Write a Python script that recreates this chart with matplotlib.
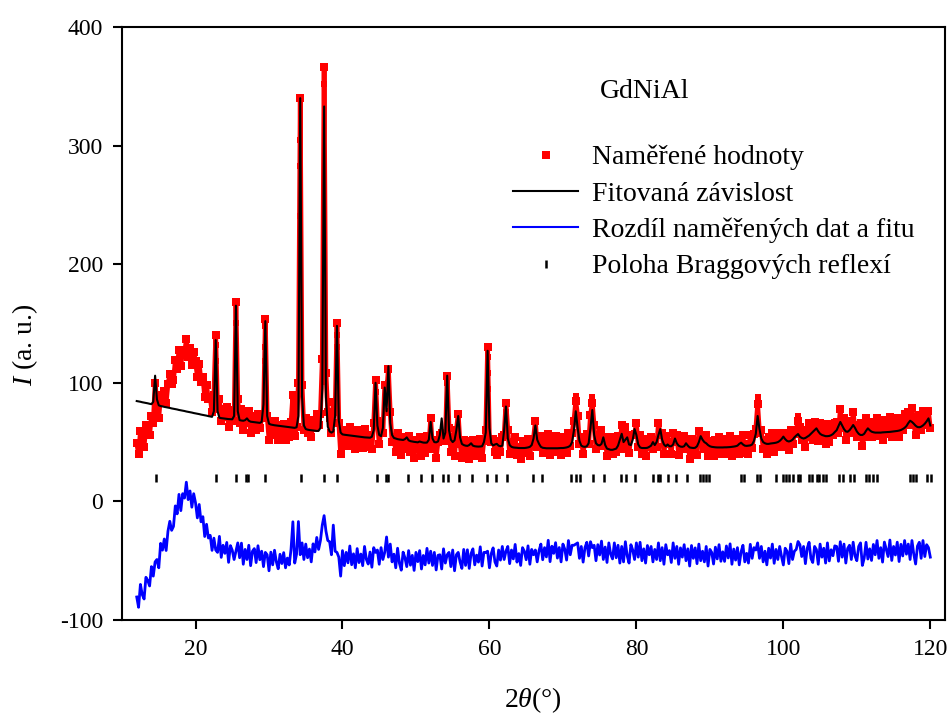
import numpy as np
import matplotlib
matplotlib.use("Agg")
from matplotlib import pyplot as plt

plt.rcParams['font.family'] = ['Liberation Serif', 'DejaVu Serif']
plt.rcParams['mathtext.fontset'] = 'custom'
plt.rcParams['mathtext.rm'] = 'Liberation Serif'
plt.rcParams['mathtext.it'] = 'Liberation Serif:italic'
plt.rcParams['axes.unicode_minus'] = False

# measurement grid, 2theta in degrees (0.25 deg step, 12 .. 120)
twoTheta = np.arange(12, 120.001, 0.25)

# measured intensity (red points), one value per grid step
measured = [
    49, 40, 59, 50, 46, 64, 61, 56, 72, 66, 100, 82, 70, 90, 84, 93, 83, 99, 107, 99,
    102, 119, 112, 128, 114, 128, 124, 137, 122, 129, 115, 126, 118, 105, 116, 101, 105, 88, 98, 86,
    88, 75, 90, 140, 78, 86, 68, 78, 71, 80, 63, 77, 73, 68, 168, 86, 66, 78, 60, 73,
    66, 76, 58, 70, 72, 60, 74, 62, 70, 72, 154, 72, 52, 67, 56, 68, 58, 52, 64, 56,
    65, 52, 60, 54, 67, 90, 55, 63, 100, 340, 98, 60, 70, 58, 65, 54, 69, 62, 74, 64,
    74, 120, 366, 108, 75, 70, 58, 84, 75, 150, 66, 40, 60, 47, 58, 49, 63, 47, 56, 44,
    60, 48, 55, 45, 61, 50, 46, 56, 44, 66, 102, 68, 48, 61, 58, 98, 91, 112, 75, 50,
    54, 42, 58, 45, 39, 54, 50, 44, 55, 42, 50, 37, 52, 44, 54, 38, 49, 41, 55, 45,
    70, 44, 52, 37, 50, 56, 58, 58, 51, 106, 62, 42, 54, 38, 60, 74, 48, 37, 52, 38,
    51, 36, 50, 52, 38, 46, 40, 53, 37, 52, 60, 130, 51, 50, 53, 42, 39, 51, 42, 54,
    56, 83, 60, 40, 50, 42, 54, 39, 46, 36, 51, 48, 41, 53, 38, 52, 53, 68, 46, 52,
    55, 41, 51, 43, 57, 39, 52, 46, 55, 42, 51, 39, 54, 50, 41, 58, 47, 58, 68, 85,
    72, 48, 54, 40, 52, 57, 48, 73, 83, 64, 44, 56, 47, 60, 50, 54, 38, 54, 44, 40,
    54, 42, 55, 45, 64, 44, 63, 53, 41, 56, 56, 57, 66, 46, 56, 40, 50, 38, 53, 46,
    54, 44, 52, 46, 66, 56, 58, 40, 55, 48, 50, 40, 58, 50, 56, 39, 52, 44, 55, 44,
    52, 36, 53, 42, 51, 39, 59, 50, 55, 44, 56, 38, 51, 48, 38, 52, 42, 54, 40, 48,
    40, 53, 43, 55, 38, 51, 42, 53, 40, 52, 56, 41, 48, 40, 56, 45, 57, 61, 82, 58,
    60, 44, 52, 40, 54, 46, 58, 42, 54, 46, 58, 51, 46, 58, 54, 43, 60, 48, 57, 60,
    68, 63, 52, 60, 46, 60, 66, 54, 52, 67, 66, 51, 66, 54, 61, 48, 65, 50, 60, 56,
    66, 67, 58, 78, 62, 70, 52, 64, 68, 58, 75, 61, 54, 64, 66, 47, 54, 70, 58, 65,
    54, 67, 58, 70, 55, 64, 52, 69, 63, 57, 71, 54, 66, 59, 70, 54, 69, 60, 74, 64,
    75, 64, 79, 66, 56, 70, 73, 60, 76, 64, 76, 76, 62,
]

# fitted profile (black line) on the same grid
fitted = [
    84.6, 84.3, 84.0, 83.6, 83.3, 83.0, 82.7, 82.3, 82.0, 84, 106, 86, 81.0, 80.4, 80.1, 79.7, 79.4, 79.1, 78.8, 78.4,
    78.1, 77.8, 77.5, 77.1, 76.8, 76.5, 76.2, 75.8, 75.5, 75.2, 74.9, 74.5, 74.2, 73.9, 73.6, 73.2, 72.9, 72.6, 72.3, 71.9,
    71.6, 71.3, 76, 136, 76, 70.5, 70.2, 70.0, 69.8, 69.6, 69.4, 69.3, 69.2, 72, 165, 76, 68.5, 68.2, 68.0, 68.5,
    70, 68, 67.2, 67.0, 66.8, 66.6, 66.4, 66.2, 67, 82, 152, 72, 65.5, 64.8, 64.5, 64.2, 64.0, 63.8, 63.6, 63.4,
    63.2, 63.0, 62.8, 62.6, 62.4, 62.2, 62.0, 62.5, 72, 340, 88, 64, 61, 60.5, 60.2, 60.0, 59.8, 59.6, 59.4, 59.5,
    62, 95, 333, 88, 63, 59, 58, 59, 72, 148, 68, 58, 56.5, 56.2, 56.0, 55.8, 55.6, 55.4, 55.2, 55.0,
    54.8, 54.6, 54.4, 54.2, 54.0, 53.9, 53.8, 53.7, 54.5, 60, 100, 64, 56, 55, 62, 96, 76, 114, 66, 56,
    53.5, 53, 52.5, 52.2, 52.0, 51.8, 52.5, 54, 51.5, 50.8, 50.5, 50.2, 50.0, 49.8, 50.5, 50, 49.6, 49.5, 49.6, 52,
    67, 53, 50, 49.8, 50.5, 56, 70, 53, 58, 106, 60, 52, 50, 51.5, 60, 72, 54, 48.5, 47.5, 47,
    46.8, 47.5, 49, 47, 46.5, 46.3, 46.2, 46.3, 46.5, 50, 58, 127, 62, 49, 47.2, 48, 48.5, 47, 46.5, 47,
    60, 80, 53, 47.5, 46, 45.5, 45.3, 45.2, 45, 45, 45, 45, 45.2, 45.5, 46, 47.5, 53, 64, 52, 48.5,
    46, 45.2, 45, 44.8, 44.8, 44.8, 44.8, 44.8, 44.8, 44.8, 44.9, 45, 45, 45.2, 45.5, 46, 47, 50, 60, 76,
    62, 51, 47, 46.2, 46, 46.5, 49, 62, 77, 56, 49, 47.5, 47.2, 48.5, 54, 47.5, 44.5, 44, 43.5, 43.5,
    44, 44.5, 47, 52, 57, 50, 52, 54, 48, 47.5, 52, 61, 56, 48, 45.5, 45, 45, 45, 45.2, 46,
    47, 50, 47.5, 50, 56, 61, 52, 48, 46.5, 48, 46.5, 46.5, 48, 53, 49, 47, 46.2, 46, 46.5, 49,
    47, 45.5, 45.2, 45, 45.2, 46.5, 50, 55, 52, 50, 49, 47.5, 46.5, 46, 45.8, 45.6, 45.5, 45.5, 45.5, 45.5,
    45.6, 45.6, 45.7, 45.8, 46, 46.2, 46.5, 47, 48.5, 49.5, 48, 47, 46.8, 47, 47.2, 48, 51, 57, 72, 61,
    53, 50, 49, 48.5, 48.5, 48.8, 49, 49.2, 49.5, 50, 51, 52.5, 54.6, 52.5, 51, 50.5, 51, 52, 54, 55.5,
    56.8, 54.5, 53.5, 53, 53.5, 54.5, 55.5, 57, 58.5, 60, 61.6, 59, 57, 56, 55.5, 55, 55, 55.2, 55.8, 56.8,
    58.5, 60, 63.5, 67, 64, 61, 59, 58.7, 60, 62, 64.4, 62, 59, 57, 56, 56, 57, 59.5, 61.6, 60,
    58.8, 58.3, 58, 58, 58, 58, 58.2, 58.3, 58.4, 58.5, 58.6, 58.8, 59, 59.2, 59.4, 59.7, 60.2, 61, 62, 63.5,
    66, 68, 67, 65.5, 63.8, 62.7, 62.5, 63, 64, 65.5, 67.5, 70, 64,
]

# extra measured points along the flanks of the strong reflections
peakTheta = [22.75, 22.75, 22.75, 25.5, 25.5, 25.5, 25.5, 29.5, 29.5, 29.5, 29.5,
             34.25, 34.25, 34.25, 34.25, 34.25, 34.25, 34.25, 34.25,
             37.5, 37.5, 37.5, 37.5, 37.5, 37.5, 37.5, 37.5, 37.5, 37.5,
             39.25, 39.25, 39.25, 39.25, 44.5, 46.25, 46.25, 54.25, 59.75, 59.75, 59.75,
             62.25, 71.75, 74.0, 74.0, 96.5, 102.0]
peakI = [132, 118, 105, 150, 135, 120, 110, 148, 130, 118, 104,
         305, 283, 241, 224, 200, 170, 146, 120,
         352, 260, 255, 248, 216, 187, 149, 133, 119, 101,
         140, 130, 111, 100, 92, 100, 88, 100, 122, 108, 95,
         75, 89, 88, 83, 88, 72]

# positions of Bragg reflections
braggPos = [14.56, 22.81, 25.53, 26.9, 27.1, 29.43, 34.29, 37.46, 39.23, 44.72, 45.89, 46.26,
            48.89, 50.70, 52.15, 53.65, 54.33, 55.79, 57.64, 59.69, 60.91, 62.36, 65.95, 67.15,
            71.11, 71.81, 72.31, 74.06, 75.65, 77.92, 78.60, 79.87, 82.31, 82.90, 83.26, 84.26,
            85.41, 86.84, 88.66, 89.11, 89.48, 89.93, 94.24, 94.69, 96.39, 96.81, 99.0, 99.99,
            100.33, 100.82, 101.27, 101.94, 102.31, 103.44, 103.90, 104.54, 104.90, 105.35,
            105.81, 107.62, 108.16, 109.06, 109.66, 111.24, 111.70, 112.16, 112.75, 117.28,
            117.69, 118.05, 119.55, 120.1]
braggLevel = 19.5

offset = -45  # shift of the difference curve
difference = np.array(measured) - np.array(fitted) + offset

fig = plt.figure(figsize=(9.49, 7.18), dpi=100)
ax = fig.add_axes([0.1286, 0.1365, 0.8672, 0.8259])

# dense cloud of measured points: joining line fills the gaps between the markers
ax.plot(twoTheta, measured, '-', color='#ff0000', lw=3.4, zorder=1)
ptsMeas, = ax.plot(twoTheta, measured, 's', color='#ff0000', ms=5.2, mew=0, zorder=2,
                   label='Naměřené hodnoty')
ax.plot(peakTheta, peakI, 's', color='#ff0000', ms=4.6, mew=0, zorder=2)
lineFit, = ax.plot(twoTheta, fitted, '-', color='black', lw=1.5, zorder=3,
                   label='Fitovaná závislost')
lineDiff, = ax.plot(twoTheta, difference, '-', color='#0000ff', lw=2.0, zorder=2,
                    label='Rozdíl naměřených dat a fitu')
ptsBragg, = ax.plot(braggPos, [braggLevel] * len(braggPos), '|', color='black', ms=5.5,
                    mew=1.8, zorder=3, label='Poloha Braggových reflexí')

ax.set_xlim(10, 122)
ax.set_ylim(-100, 400)
ax.set_xticks(range(20, 121, 20))
ax.set_yticks(range(-100, 401, 100))
ax.tick_params(direction='out', length=6.5, width=1.5, labelsize=17, pad=7)
for s in ax.spines.values():
    s.set_linewidth(1.5)

fig.text(533 / 949, 1 - 700 / 718, r'2$\theta$(°)', fontsize=20, ha='center', va='center')
fig.text(25 / 949, 1 - 345 / 718, r'$I$ (a. u.)', fontsize=20, ha='center', va='center',
         rotation=90)

fig.text(645 / 949, 1 - 92 / 718, 'GdNiAl', fontsize=20, ha='center', va='center')

lineDiff.set_linewidth(1.5)
leg = ax.legend(handles=[ptsMeas, lineFit, lineDiff, ptsBragg], loc='upper left',
                bbox_to_anchor=(513 / 949, 1 - 145 / 718), bbox_transform=fig.transFigure,
                frameon=False, fontsize=20, borderpad=0, borderaxespad=0, handlelength=2.35,
                handletextpad=0.5, labelspacing=0.39, markerscale=1.0)
lineDiff.set_linewidth(2.0)

fig.savefig('out.png', dpi=100)
